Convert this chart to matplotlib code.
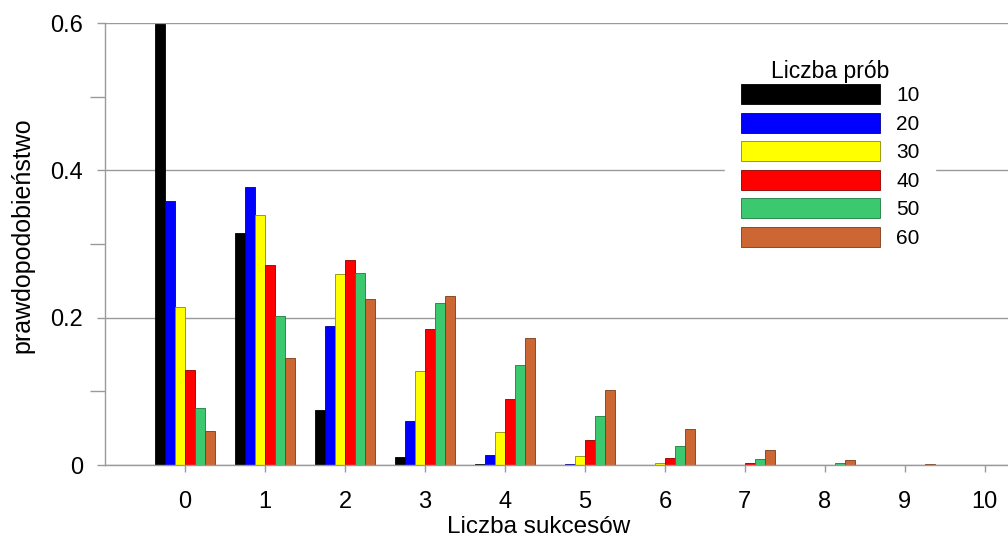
import numpy as np
import matplotlib.pyplot as plt
from matplotlib.patches import Patch

plt.rcParams['font.family'] = ['Liberation Sans', 'DejaVu Sans']

# --- DATA ---
successes = list(range(11))
trials = [10, 20, 30, 40, 50, 60]
p_10 = [0.599, 0.315, 0.075, 0.0105, 0.001, 0.0001, 0, 0, 0, 0, 0]
p_20 = [0.358, 0.377, 0.189, 0.060, 0.013, 0.002, 0.0003, 0, 0, 0, 0]
p_30 = [0.215, 0.339, 0.259, 0.127, 0.045, 0.012, 0.003, 0.0005, 0, 0, 0]
p_40 = [0.129, 0.271, 0.278, 0.185, 0.090, 0.034, 0.010, 0.0025, 0.0005, 0, 0]
p_50 = [0.077, 0.202, 0.261, 0.220, 0.136, 0.066, 0.026, 0.0086, 0.0024, 0.0006, 0.0001]
p_60 = [0.046, 0.145, 0.226, 0.230, 0.172, 0.102, 0.049, 0.020, 0.007, 0.002, 0.0006]
series = [p_10, p_20, p_30, p_40, p_50, p_60]

colors = ['#000000', '#0000FF', '#FFFF00', '#FF0000', '#3CC86E', '#CC6633']
edges = ['#000000', '#00008C', '#8C8C00', '#8C0000', '#1E7A3E', '#7A3A1A']

GRAY = '#9a9a9a'
BAR_W = 0.125

fig = plt.figure(figsize=(10.08, 5.39), dpi=100)
ax = fig.add_axes([105 / 1008, 1 - 465 / 539, 1 - 105 / 1008, (465 - 23) / 539])

x = np.array(successes, dtype=float)
for i, (vals, c, ec) in enumerate(zip(series, colors, edges)):
    offs = (i - 2.5) * BAR_W
    ax.bar(x + offs, vals, width=BAR_W, color=c, edgecolor=ec, linewidth=0.6, zorder=3)

ax.set_xlim(-1.0, 10.29)
ax.set_ylim(0, 0.6)

# y axis: major labels, minor ticks in between
ax.set_yticks([0, 0.2, 0.4, 0.6])
ax.set_yticklabels(['0', '0.2', '0.4', '0.6'])
ax.set_yticks([0.1, 0.3, 0.5], minor=True)
ax.yaxis.grid(True, which='major', color=GRAY, linewidth=1, zorder=0)
ax.set_axisbelow(True)

ax.set_xticks(successes)
ax.tick_params(axis='x', direction='out', length=5, width=1, color=GRAY,
               labelsize=17, pad=14)
ax.tick_params(axis='y', which='major', direction='out', length=6, width=1,
               color=GRAY, labelsize=17, pad=10)
ax.tick_params(axis='y', which='minor', direction='out', length=11, width=1,
               color=GRAY)

for side in ['top', 'right']:
    ax.spines[side].set_visible(False)
for side in ['left', 'bottom']:
    ax.spines[side].set_color(GRAY)
    ax.spines[side].set_linewidth(1)
    ax.spines[side].set_zorder(4)

ax.set_xlabel('Liczba sukcesów', fontsize=17.5)
ax.xaxis.set_label_coords(0.48, -0.115)
ax.set_ylabel('prawdopodobieństwo', fontsize=18)
ax.yaxis.set_label_coords(-0.078, 0.52)

handles = [Patch(facecolor=c, edgecolor=ec, linewidth=0.6) for c, ec in zip(colors, edges)]
leg = ax.legend(handles, [str(t) for t in trials], title='Liczba prób',
                loc='upper left', bbox_to_anchor=(725 / 1008, 1 - 44 / 539),
                bbox_transform=fig.transFigure,
                fontsize=15, title_fontsize=16.5, frameon=True, framealpha=1,
                edgecolor='white', facecolor='white', fancybox=False,
                handlelength=6.67, handleheight=1.1, labelspacing=0.36,
                handletextpad=0.8, borderpad=0.75, borderaxespad=0)
leg.set_zorder(5)
# pull the title a little closer to the first entry
leg._legend_box.sep = 1

fig.savefig('out.png', dpi=100)
